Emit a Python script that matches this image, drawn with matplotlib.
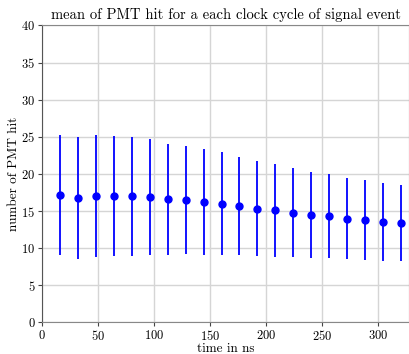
import matplotlib
matplotlib.use("Agg")
import matplotlib.pyplot as plt

plt.rcParams['font.family'] = ['cmr10', 'DejaVu Serif']
plt.rcParams['axes.formatter.use_mathtext'] = True
plt.rcParams['mathtext.fontset'] = 'cm'

# data: clock cycle times (ns), mean hits, spread
time_ns = [16, 32, 48, 64, 80, 96, 112, 128, 144, 160,
           176, 192, 208, 224, 240, 256, 272, 288, 304, 320]
mean_hits = [17.2, 16.8, 17.0, 17.0, 17.0, 16.9, 16.6, 16.5, 16.25, 16.0,
             15.66, 15.35, 15.09, 14.78, 14.46, 14.3, 14.0, 13.84, 13.57, 13.35]
err_hits = [8.05, 8.2, 8.2, 8.05, 8.0, 7.8, 7.5, 7.3, 7.1, 6.9,
            6.6, 6.45, 6.24, 6.0, 5.8, 5.67, 5.47, 5.38, 5.27, 5.1]

fig = plt.figure(figsize=(4.09, 3.54), dpi=100)
ax = fig.add_axes([0.1034, 0.089, 0.8966, 0.839])

ax.errorbar(time_ns, mean_hits, yerr=err_hits, fmt='o', color='blue',
            ecolor='blue', elinewidth=1.3, markersize=5, capsize=0, zorder=3)

ax.set_xlim(0, 327.4)
ax.set_ylim(0, 40)
ax.set_xticks([0, 50, 100, 150, 200, 250, 300])
ax.set_yticks([0, 5, 10, 15, 20, 25, 30, 35, 40])
ax.grid(True, color='#d5d5d5', linewidth=1)
ax.set_axisbelow(True)

for side in ['top', 'bottom', 'right']:
    ax.spines[side].set_color('#888888')
ax.spines['left'].set_color('#555555')
ax.tick_params(colors='#444444', labelcolor='black', labelsize=9, length=3, pad=2)

ax.set_title('mean of PMT hit for a each clock cycle of signal event', fontsize=10.5, pad=5)
ax.set_xlabel('time in ns', fontsize=9.5, labelpad=-0.5)
ax.set_ylabel('number of PMT hit', fontsize=9.5, labelpad=1)

fig.savefig('out.png', dpi=100)
